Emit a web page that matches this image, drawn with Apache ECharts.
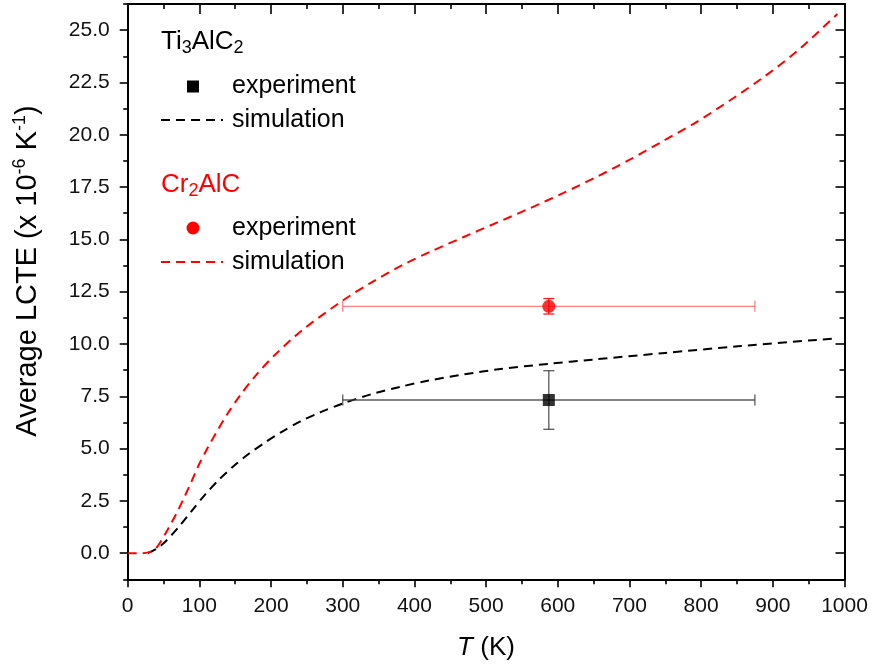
<!DOCTYPE html>
<html>
<head>
<meta charset="utf-8">
<script src="https://cdn.jsdelivr.net/npm/echarts@6/dist/echarts.min.js"></script>
<style>
html,body{margin:0;padding:0;background:#fff;}
#chart{width:872px;height:668px;}
</style>
</head>
<body>
<div id="chart"></div>
<script>
// ---- data ----
const xTicks = [0, 100, 200, 300, 400, 500, 600, 700, 800, 900, 1000];
const xMinorTicks = [50, 150, 250, 350, 450, 550, 650, 750, 850, 950];
const yTicks = [0, 2.5, 5, 7.5, 10, 12.5, 15, 17.5, 20, 22.5, 25];
const yMinorTicks = [-1.25, 1.25, 3.75, 6.25, 8.75, 11.25, 13.75, 16.25, 18.75, 21.25, 23.75, 26.25];

// Cr2AlC simulation (red dashed)
const crSimT = [0, 20, 30, 38, 46, 57, 68, 78, 88, 99, 111, 125, 139, 157, 180, 206, 245, 299, 338, 385, 425, 468, 515, 562, 608, 655, 701, 748, 794, 841, 887, 934, 990];
const crSimV = [0, 0, 0.05, 0.18, 0.55, 1.2, 1.9, 2.6, 3.35, 4.2, 5.0, 5.85, 6.65, 7.55, 8.55, 9.5, 10.7, 12.05, 12.9, 13.8, 14.45, 15.1, 15.8, 16.5, 17.22, 18.0, 18.82, 19.72, 20.62, 21.66, 22.75, 24.0, 25.77];

// Ti3AlC2 simulation (black dashed)
const tiSimT = [28, 40, 52, 73, 90, 108, 127, 148, 169, 192, 215, 241, 270, 300, 340, 380, 420, 470, 520, 587, 648, 750, 851, 990];
const tiSimV = [0, 0.2, 0.53, 1.33, 2.05, 2.8, 3.5, 4.17, 4.75, 5.3, 5.8, 6.3, 6.75, 7.15, 7.6, 7.95, 8.25, 8.55, 8.8, 9.05, 9.25, 9.57, 9.89, 10.27];

// experiments: [T, value, T error, value error]
const tiExp = [587.5, 7.32, 287.5, 1.4];
const crExp = [587.5, 11.8, 287.5, 0.37];

// ---- helpers ----
const FONT = '"Liberation Sans", Arial, Helvetica, sans-serif';
const pair = (a, b) => a.map((v, i) => [v, b[i]]);

function errRender(hColor, vColor) {
  return function (params, api) {
    const x = api.value(0), y = api.value(1), xe = api.value(2), ye = api.value(3);
    const l = api.coord([x - xe, y]), r = api.coord([x + xe, y]);
    const t = api.coord([x, y + ye]), b = api.coord([x, y - ye]);
    const cap = 5.5;
    const hs = { stroke: hColor, lineWidth: 1.3 };
    const vs = { stroke: vColor, lineWidth: 1.3 };
    return {
      type: 'group',
      children: [
        { type: 'line', shape: { x1: l[0], y1: l[1], x2: r[0], y2: r[1] }, style: hs },
        { type: 'line', shape: { x1: l[0], y1: l[1] - cap, x2: l[0], y2: l[1] + cap }, style: hs },
        { type: 'line', shape: { x1: r[0], y1: r[1] - cap, x2: r[0], y2: r[1] + cap }, style: hs },
        { type: 'line', shape: { x1: t[0], y1: t[1], x2: b[0], y2: b[1] }, style: vs },
        { type: 'line', shape: { x1: t[0] - cap, y1: t[1], x2: t[0] + cap, y2: t[1] }, style: vs },
        { type: 'line', shape: { x1: b[0] - cap, y1: b[1], x2: b[0] + cap, y2: b[1] }, style: vs }
      ]
    };
  };
}

function xAx(pos, inside, len, vals, showLine, showLabel) {
  return {
    type: 'value', position: pos, min: 0, max: 1000, interval: 50,
    axisLine: { show: showLine, onZero: false, lineStyle: { color: '#000', width: 2 } },
    axisTick: { show: true, inside: inside, length: len, customValues: vals, lineStyle: { color: '#000', width: 1.6 } },
    axisLabel: { show: showLabel, customValues: xTicks, margin: 16, color: '#111', fontSize: 21, fontFamily: FONT,
      formatter: v => String(Math.round(v)) },
    splitLine: { show: false }
  };
}
function yAx(pos, inside, len, vals, showLine, showLabel) {
  return {
    type: 'value', position: pos, min: -1.25, max: 26.25, interval: 1.25,
    axisLine: { show: showLine, onZero: false, lineStyle: { color: '#000', width: 2 } },
    axisTick: { show: true, inside: inside, length: len, customValues: vals, lineStyle: { color: '#000', width: 1.6 } },
    axisLabel: { show: showLabel, customValues: yTicks, margin: 18, color: '#111', fontSize: 21, fontFamily: FONT,
      formatter: v => v.toFixed(1) },
    splitLine: { show: false }
  };
}

const chart = echarts.init(document.getElementById('chart'), null, { renderer: 'canvas' });

const legendX = 161;
const option = {
  backgroundColor: '#fff',
  animation: false,
  grid: { left: 127.7, right: 27.5, top: 4, bottom: 88.7, containLabel: false },
  xAxis: [
    xAx('bottom', false, 8, xTicks, true, true),
    xAx('bottom', false, 5, xMinorTicks, false, false),
    xAx('top', true, 10, xTicks, true, false),
    xAx('top', true, 5, xMinorTicks, false, false)
  ],
  yAxis: [
    yAx('left', false, 8, yTicks, true, true),
    yAx('left', false, 4.5, yMinorTicks, false, false),
    yAx('right', true, 9, yTicks, true, false),
    yAx('right', true, 5, yMinorTicks, false, false)
  ],
  series: [
    {
      name: 'Ti3AlC2 simulation', type: 'line', data: pair(tiSimT, tiSimV), smooth: 0.3,
      showSymbol: false, lineStyle: { color: '#000', width: 2, type: [9, 6] }, z: 3
    },
    {
      name: 'Cr2AlC simulation', type: 'line', data: pair(crSimT, crSimV), smooth: 0.3,
      showSymbol: false, lineStyle: { color: '#ff0000', width: 2, type: [9, 6] }, z: 3
    },
    {
      name: 'Ti3AlC2 error', type: 'custom', data: [tiExp], renderItem: errRender('rgba(60,60,60,0.85)', 'rgba(60,60,60,0.85)'), z: 4
    },
    {
      name: 'Cr2AlC error', type: 'custom', data: [crExp], renderItem: errRender('rgba(255,90,90,0.75)', 'rgba(255,0,0,0.9)'), z: 4
    },
    {
      name: 'Ti3AlC2 experiment', type: 'scatter', data: [[tiExp[0], tiExp[1]]], symbol: 'rect', symbolSize: 12,
      itemStyle: { color: '#000' }, z: 5
    },
    {
      name: 'Cr2AlC experiment', type: 'scatter', data: [[crExp[0], crExp[1]]], symbol: 'circle', symbolSize: 13,
      itemStyle: { color: '#ff0000' }, z: 5
    }
  ],
  graphic: [
    // legend
    { type: 'text', left: legendX, top: 29, style: {
        rich: { a: { fontSize: 26, fontFamily: FONT, fill: '#000', lineHeight: 30 },
                s: { fontSize: 18, fontFamily: FONT, fill: '#000', lineHeight: 18, verticalAlign: 'bottom' } },
        text: '{a|Ti}{s|3}{a|AlC}{s|2}' } },
    { type: 'rect', shape: { x: 187, y: 80.5, width: 12, height: 12 }, style: { fill: '#000' } },
    { type: 'text', x: 232, y: 86, style: { text: 'experiment', fontSize: 25, fontFamily: FONT, fill: '#000', textVerticalAlign: 'middle' } },
    { type: 'line', shape: { x1: legendX, y1: 120, x2: 223, y2: 120 }, style: { stroke: '#000', lineWidth: 2, lineDash: [9, 6] } },
    { type: 'text', x: 232, y: 120, style: { text: 'simulation', fontSize: 25, fontFamily: FONT, fill: '#000', textVerticalAlign: 'middle' } },

    { type: 'text', left: legendX, top: 172, style: {
        rich: { a: { fontSize: 26, fontFamily: FONT, fill: '#ff0000', lineHeight: 30 },
                s: { fontSize: 18, fontFamily: FONT, fill: '#ff0000', lineHeight: 18, verticalAlign: 'bottom' } },
        text: '{a|Cr}{s|2}{a|AlC}' } },
    { type: 'circle', shape: { cx: 193, cy: 228, r: 6.5 }, style: { fill: '#ff0000' } },
    { type: 'text', x: 232, y: 228, style: { text: 'experiment', fontSize: 25, fontFamily: FONT, fill: '#000', textVerticalAlign: 'middle' } },
    { type: 'line', shape: { x1: legendX, y1: 262, x2: 223, y2: 262 }, style: { stroke: '#ff0000', lineWidth: 2, lineDash: [9, 6] } },
    { type: 'text', x: 232, y: 262, style: { text: 'simulation', fontSize: 25, fontFamily: FONT, fill: '#000', textVerticalAlign: 'middle' } },

    // axis titles
    { type: 'text', x: 28, y: 271, rotation: Math.PI / 2, style: {
        align: 'center', verticalAlign: 'middle',
        rich: { a: { fontSize: 29, fontFamily: FONT, fill: '#000', lineHeight: 34 },
                s: { fontSize: 18, fontFamily: FONT, fill: '#000', lineHeight: 18, verticalAlign: 'top' } },
        text: '{a|Average LCTE (x 10}{s|-6}{a| K}{s|-1}{a|)}' } },
    { type: 'text', x: 486, y: 648, style: {
        align: 'center', verticalAlign: 'middle',
        rich: { i: { fontSize: 26, fontFamily: FONT, fill: '#000', fontStyle: 'italic' },
                a: { fontSize: 26, fontFamily: FONT, fill: '#000' } },
        text: '{i|T}{a| (K)}' } }
  ]
};
chart.setOption(option);
</script>
</body>
</html>
